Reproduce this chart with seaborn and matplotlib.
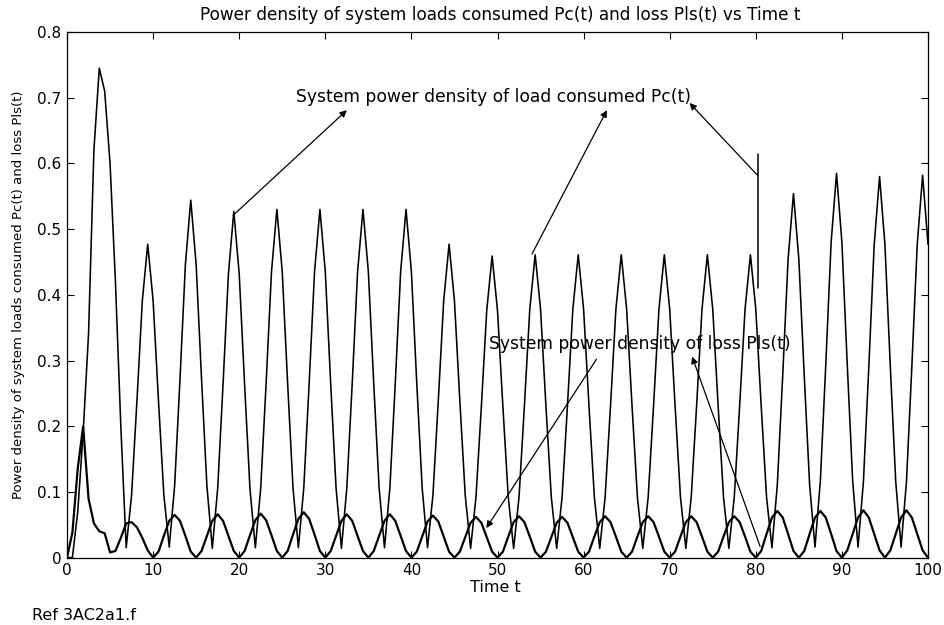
import numpy as np
import matplotlib
matplotlib.use("Agg")
import matplotlib.pyplot as plt
import seaborn as sns

# ---------------- data ----------------
time_t = np.linspace(0, 100, 161)   # sampling instants, step 0.625

pc_values = [
    0.0, 0.0, 0.07, 0.19, 0.34, 0.62, 0.745, 0.71,
    0.60, 0.42, 0.20, 0.015, 0.095, 0.239, 0.391, 0.477,
    0.391, 0.239, 0.095, 0.016, 0.109, 0.272, 0.446, 0.544,
    0.446, 0.272, 0.109, 0.014, 0.105, 0.264, 0.432, 0.527,
    0.432, 0.264, 0.105, 0.015, 0.106, 0.265, 0.435, 0.530,
    0.435, 0.265, 0.106, 0.015, 0.106, 0.265, 0.435, 0.530,
    0.435, 0.265, 0.106, 0.014, 0.106, 0.265, 0.435, 0.530,
    0.435, 0.265, 0.106, 0.015, 0.106, 0.265, 0.435, 0.530,
    0.435, 0.265, 0.106, 0.015, 0.095, 0.239, 0.391, 0.477,
    0.391, 0.239, 0.095, 0.014, 0.092, 0.230, 0.376, 0.459,
    0.376, 0.230, 0.092, 0.014, 0.092, 0.231, 0.378, 0.461,
    0.378, 0.231, 0.092, 0.014, 0.092, 0.231, 0.378, 0.461,
    0.378, 0.231, 0.092, 0.014, 0.092, 0.231, 0.378, 0.461,
    0.378, 0.231, 0.092, 0.014, 0.092, 0.231, 0.378, 0.461,
    0.378, 0.231, 0.092, 0.014, 0.092, 0.231, 0.378, 0.461,
    0.378, 0.231, 0.092, 0.014, 0.092, 0.231, 0.378, 0.461,
    0.378, 0.231, 0.092, 0.015, 0.111, 0.277, 0.454, 0.554,
    0.454, 0.277, 0.111, 0.016, 0.117, 0.293, 0.480, 0.585,
    0.480, 0.293, 0.117, 0.016, 0.116, 0.290, 0.476, 0.580,
    0.476, 0.290, 0.116, 0.016, 0.116, 0.291, 0.477, 0.582,
    0.477,
]

pls_values = [
    0.0, 0.038, 0.136, 0.200, 0.090, 0.052, 0.040, 0.037,
    0.008, 0.010, 0.030, 0.052, 0.054, 0.046, 0.030, 0.011,
    0.0, 0.009, 0.033, 0.056, 0.065, 0.056, 0.033, 0.009,
    0.0, 0.010, 0.033, 0.056, 0.066, 0.056, 0.033, 0.010,
    0.0, 0.010, 0.034, 0.057, 0.067, 0.057, 0.034, 0.010,
    0.0, 0.010, 0.035, 0.059, 0.069, 0.059, 0.035, 0.010,
    0.0, 0.010, 0.033, 0.056, 0.066, 0.056, 0.033, 0.010,
    0.0, 0.010, 0.033, 0.056, 0.066, 0.056, 0.033, 0.010,
    0.0, 0.009, 0.032, 0.055, 0.064, 0.055, 0.032, 0.009,
    0.0, 0.009, 0.031, 0.053, 0.062, 0.053, 0.031, 0.009,
    0.0, 0.009, 0.032, 0.054, 0.063, 0.054, 0.032, 0.009,
    0.0, 0.009, 0.031, 0.053, 0.062, 0.053, 0.031, 0.009,
    0.0, 0.009, 0.032, 0.054, 0.063, 0.054, 0.032, 0.009,
    0.0, 0.009, 0.032, 0.054, 0.063, 0.054, 0.032, 0.009,
    0.0, 0.009, 0.032, 0.054, 0.063, 0.054, 0.032, 0.009,
    0.0, 0.009, 0.032, 0.054, 0.063, 0.054, 0.032, 0.009,
    0.0, 0.010, 0.036, 0.061, 0.071, 0.061, 0.036, 0.010,
    0.0, 0.010, 0.036, 0.061, 0.071, 0.061, 0.036, 0.010,
    0.0, 0.011, 0.036, 0.061, 0.072, 0.061, 0.036, 0.011,
    0.0, 0.011, 0.036, 0.061, 0.072, 0.061, 0.036, 0.011,
    0.0,
]

# glitch in Pc(t) near t = 80
spike_t = [80.2, 80.2]
spike_pc = [0.41, 0.615]

x_ticks = [0, 10, 20, 30, 40, 50, 60, 70, 80, 90, 100]
y_ticks = [0, 0.1, 0.2, 0.3, 0.4, 0.5, 0.6, 0.7, 0.8]
x_tick_labels = ["0", "10", "20", "30", "40", "50", "60", "70", "80", "90", "100"]
y_tick_labels = ["0", "0.1", "0.2", "0.3", "0.4", "0.5", "0.6", "0.7", "0.8"]

title_text = "Power density of system loads consumed Pc(t) and loss Pls(t) vs Time t"
x_label = "Time t"
y_label = "Power density of system loads consumed Pc(t) and loss Pls(t)"
pc_note = "System power density of load consumed Pc(t)"
pls_note = "System power density of loss Pls(t)"
footer = "Ref 3AC2a1.f"

# ---------------- style ----------------
sns.set_theme(style="ticks")
plt.rcParams["font.family"] = ["DejaVu Sans"]

fig = plt.figure(figsize=(9.45, 6.25), dpi=100)
W, H = 945.0, 625.0
ax = fig.add_axes([67 / W, 1 - 557.6 / H, (928 - 67) / W, (557.6 - 32) / H])

sns.lineplot(x=time_t, y=pc_values, ax=ax, color="black", linewidth=1.15,
             estimator=None, sort=False)
sns.lineplot(x=time_t, y=pls_values, ax=ax, color="black", linewidth=1.6,
             estimator=None, sort=False)
sns.lineplot(x=spike_t, y=spike_pc, ax=ax, color="black", linewidth=1.1,
             estimator=None, sort=False)

ax.set_xlim(0, 100)
ax.set_ylim(0, 0.8)
ax.set_xticks(x_ticks)
ax.set_xticklabels(x_tick_labels)
ax.set_yticks(y_ticks)
ax.set_yticklabels(y_tick_labels)
ax.tick_params(direction="in", top=True, right=True, length=5, width=0.8,
               labelsize=11, colors="black")
ax.tick_params(axis="x", pad=4)
ax.tick_params(axis="y", pad=4)
for s in ax.spines.values():
    s.set_linewidth(0.9)
    s.set_color("black")
ax.set_facecolor("white")

ax.set_xlabel(x_label, fontsize=11.5, color="black")
ax.xaxis.set_label_coords(0.498, -0.043)
ax.set_ylabel(y_label, fontsize=9.5, color="black")
ax.yaxis.set_label_coords(-0.049, 0.5)

fig.text(500 / W, 1 - 15 / H, title_text, ha="center", va="center",
         fontsize=12.2, color="black")
fig.text(32 / W, 1 - 616 / H, footer, ha="left", va="center",
         fontsize=11.5, color="black")

ax.text(26.65, 0.701, pc_note, ha="left", va="center", fontsize=12.3, color="black")
ax.text(49.05, 0.3247, pls_note, ha="left", va="center", fontsize=12.3, color="black")

arrows = [
    ((19.3, 0.521), (32.5, 0.681)),
    ((54.0, 0.462), (62.7, 0.681)),
    ((80.2, 0.582), (72.3, 0.692)),
    ((61.5, 0.302), (48.7, 0.045)),
    ((80.5, 0.017), (72.6, 0.306)),
]
for tail, head in arrows:
    ax.annotate("", xy=head, xytext=tail,
                arrowprops=dict(arrowstyle="-|>", color="black", lw=0.9,
                                mutation_scale=10, shrinkA=0, shrinkB=0))

fig.savefig("out.png", dpi=100, facecolor="white")
